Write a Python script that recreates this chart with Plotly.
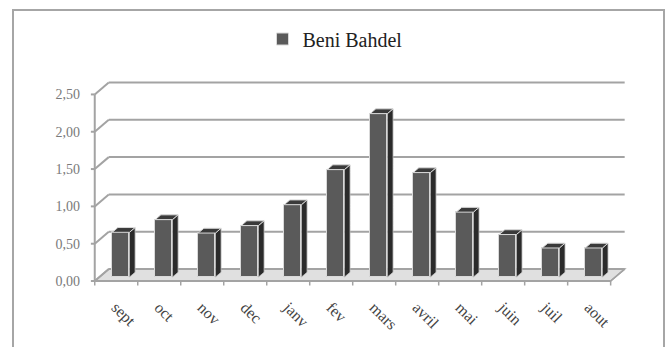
import plotly.graph_objects as go

# ---- data ----
months = ["sept", "oct", "nov", "dec", "janv", "fev", "mars", "avril", "mai", "juin", "juil", "aout"]
values = [0.60, 0.77, 0.59, 0.69, 0.97, 1.44, 2.19, 1.40, 0.87, 0.57, 0.39, 0.39]
y_ticks = [0.0, 0.5, 1.0, 1.5, 2.0, 2.5]
series_name = "Beni Bahdel"

# ---- pseudo-3D geometry (in axis units) ----
n = len(months)
DX, DY = 0.326, 0.16          # full depth of the floor / walls
F1, F2 = 0.33, 0.73           # bar front / back depth fractions
BW = 0.40                     # bar width (category units)
x_lo, x_hi = -0.5, n - 0.5
ymax_axis = y_ticks[-1]

SERIF = "Liberation Serif, Times New Roman, serif"
GRID = "#a3a3a3"
FRONT = "#5a5a5a"
SIDE = "#2b2b2b"
TOP = "#3a3a3a"
EDGE = "#d9d9d9"

fig = go.Figure()

# front faces of the bars (library bars)
xs_front = [i + F1 * DX for i in range(n)]
fig.add_trace(go.Bar(
    x=xs_front, y=values, base=F1 * DY, width=BW, name=series_name,
    marker=dict(color=FRONT, line=dict(color=EDGE, width=1)),
    showlegend=True,
))

ddx = (F2 - F1) * DX
ddy = (F2 - F1) * DY
side_x, side_y, top_x, top_y = [], [], [], []
for xc, v in zip(xs_front, values):
    xl, xr = xc - BW / 2, xc + BW / 2
    b = F1 * DY
    side_x += [xr, xr + ddx, xr + ddx, xr, xr, None]
    side_y += [b, b + ddy, b + v + ddy, b + v, b, None]
    top_x += [xl, xr, xr + ddx, xl + ddx, xl, None]
    top_y += [b + v, b + v, b + v + ddy, b + v + ddy, b + v, None]

fig.add_trace(go.Scatter(x=side_x, y=side_y, mode="lines", fill="toself",
                         fillcolor=SIDE, line=dict(color="#bdbdbd", width=0.8),
                         showlegend=False, hoverinfo="skip"))
fig.add_trace(go.Scatter(x=top_x, y=top_y, mode="lines", fill="toself",
                         fillcolor=TOP, line=dict(color=EDGE, width=1),
                         showlegend=False, hoverinfo="skip"))

# ---- walls, floor, gridlines (shapes beneath the bars) ----
shapes = []
floor_path = (f"M {x_lo},0 L {x_hi},0 L {x_hi + DX},{DY} L {x_lo + DX},{DY} Z")
shapes.append(dict(type="path", path=floor_path, xref="x", yref="y", layer="below",
                   fillcolor="#e0e0e0", line=dict(color=GRID, width=1.5)))
for t in y_ticks:
    shapes.append(dict(type="line", xref="x", yref="y", layer="below",
                       x0=x_lo, y0=t, x1=x_lo + DX, y1=t + DY,
                       line=dict(color=GRID, width=2)))
    shapes.append(dict(type="line", xref="x", yref="y", layer="below",
                       x0=x_lo + DX, y0=t + DY, x1=x_hi + DX, y1=t + DY,
                       line=dict(color=GRID, width=2)))
# front vertical axis
shapes.append(dict(type="line", xref="x", yref="y", layer="below",
                   x0=x_lo, y0=0, x1=x_lo, y1=ymax_axis, line=dict(color=GRID, width=2)))
# y tick marks
for t in y_ticks:
    shapes.append(dict(type="line", xref="x", yref="y", layer="below",
                       x0=x_lo - 0.09, y0=t, x1=x_lo, y1=t, line=dict(color=GRID, width=2)))
# front floor edge + x tick marks at category boundaries
shapes.append(dict(type="line", xref="x", yref="y", layer="above",
                   x0=x_lo, y0=0, x1=x_hi, y1=0, line=dict(color=GRID, width=2)))
shapes.append(dict(type="line", xref="x", yref="y", layer="above",
                   x0=x_hi, y0=0, x1=x_hi + DX, y1=DY, line=dict(color=GRID, width=1.5)))
for k in range(n + 1):
    xb = x_lo + k
    shapes.append(dict(type="line", xref="x", yref="y", layer="above",
                       x0=xb, y0=0, x1=xb, y1=-0.06, line=dict(color=GRID, width=1.5)))
# outer frame
shapes.append(dict(type="rect", xref="paper", yref="paper",
                   x0=(13 - 84) / 546, x1=(664 - 84) / 546,
                   y0=-0.4, y1=(287 - 10) / 209,
                   line=dict(color="#a6a6a6", width=2), fillcolor="rgba(0,0,0,0)"))

fig.update_layout(
    width=670, height=347,
    margin=dict(l=84, r=40, t=78, b=60),
    paper_bgcolor="white", plot_bgcolor="white",
    font=dict(family=SERIF),
    shapes=shapes,
    showlegend=True,
    legend=dict(orientation="h", xref="container", yref="container",
                x=0.5, y=1 - 39 / 347, xanchor="center", yanchor="middle",
                font=dict(family=SERIF, size=20, color="#222222"),
                bgcolor="rgba(0,0,0,0)"),
    bargap=0,
)
fig.update_xaxes(range=[-0.75, 11.95], showgrid=False, zeroline=False, showline=False,
                 ticks="", tickmode="array", tickvals=list(range(n)), ticktext=months,
                 tickangle=45, tickfont=dict(family=SERIF, size=16, color="#444444"),
                 ticklabelstandoff=7)
fig.update_yaxes(range=[-0.08, 2.72], showgrid=False, zeroline=False, showline=False,
                 ticks="", tickmode="array", tickvals=y_ticks,
                 ticktext=[f"{t:.2f}".replace(".", ",") for t in y_ticks],
                 tickfont=dict(family=SERIF, size=14, color="#7a7a7a"),
                 ticklabelstandoff=3)

fig.write_html("out.html")
